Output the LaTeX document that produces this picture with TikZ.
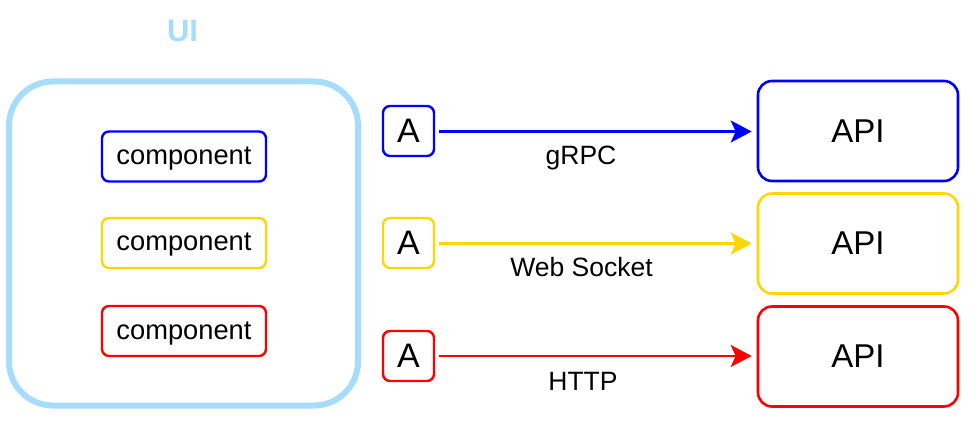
\documentclass[tikz,border=0pt]{standalone}
\usepackage{fontspec}
\setmainfont{Liberation Sans}
\usetikzlibrary{arrows.meta}
\definecolor{uiblue}{HTML}{A6DCFF}
\definecolor{cblue}{HTML}{0000FF}
\definecolor{cyellow}{HTML}{FFD700}
\definecolor{cred}{HTML}{FF0000}
\tikzset{
  compbox/.style={draw, rectangle, rounded corners=7pt, line width=2.4pt,
    minimum width=164pt, minimum height=50pt, inner sep=0pt,
    font=\fontsize{27.3}{31}\selectfont, text height=16pt, text depth=0pt},
  abox/.style={draw, rectangle, rounded corners=7pt, line width=2.4pt,
    minimum width=51pt, minimum height=50pt, inner sep=0pt,
    font=\fontsize{34}{40}\selectfont},
  apibox/.style={draw, rectangle, rounded corners=14pt, line width=2.6pt,
    minimum width=200pt, minimum height=100pt, inner sep=0pt,
    font=\fontsize{33}{40}\selectfont},
  conn/.style={line width=2.4pt, -{Stealth[length=21pt, width=22pt, inset=5pt]}},
  lbl/.style={anchor=base, inner sep=0pt, font=\fontsize{26.5}{30}\selectfont},
}
\begin{document}
\begin{tikzpicture}[x=1pt, y=-1pt]
\useasboundingbox (0,0) rectangle (980,430);
% UI container
\node[draw=uiblue, line width=6pt, rounded corners=44pt, rectangle,
  minimum width=349pt, minimum height=324pt, inner sep=0pt] (ui) at (183.5,243.5) {};
\node[text=uiblue, font=\fontsize{31}{36}\selectfont\bfseries, inner sep=0pt] (uititle) at (182.5,30.5) {UI};
% components
\node[compbox, draw=cblue] (c1) at (184,156.5) {component};
\node[compbox, draw=cyellow] (c2) at (184,243) {component};
\node[compbox, draw=cred] (c3) at (184,331) {component};
% A boxes
\node[abox, draw=cblue] (a1) at (408.5,131) {A};
\node[abox, draw=cyellow] (a2) at (408.5,243) {A};
\node[abox, draw=cred] (a3) at (408.5,356) {A};
% API boxes
\node[apibox, draw=cblue] (p1) at (858,131) {API};
\node[apibox, draw=cyellow] (p2) at (858,243.5) {API};
\node[apibox, draw=cred] (p3) at (858,356.5) {API};
% connectors
\draw[conn, draw=cblue, fill=cblue, shorten <=4pt, shorten >=5pt] (a1.east |- 0,131.5) -- (p1.west |- 0,131.5);
\draw[conn, draw=cyellow, fill=cyellow, shorten <=4pt, shorten >=5pt] (a2.east |- 0,243.5) -- (p2.west |- 0,243.5);
\draw[conn, draw=cred, fill=cred, shorten <=4pt, shorten >=5pt] (a3.east |- 0,356) -- (p3.west |- 0,356);
% labels
\node[lbl] (l1) at (581,165) {gRPC};
\node[lbl] (l2) at (581.5,277) {Web Socket};
\node[lbl] (l3) at (583,390) {HTTP};
\end{tikzpicture}
\end{document}
